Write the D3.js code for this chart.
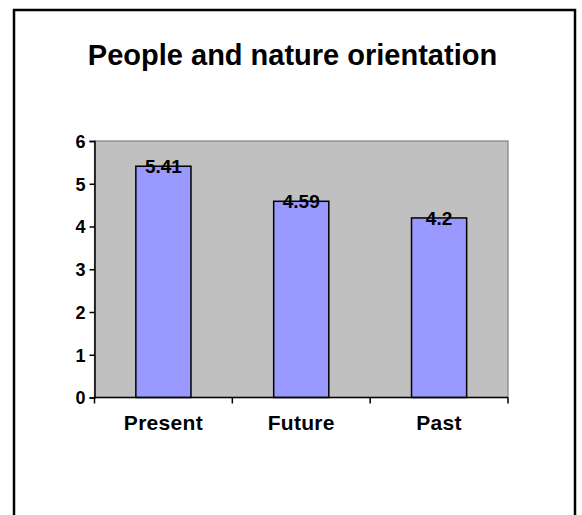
<!DOCTYPE html>
<html>
<head>
<meta charset="utf-8">
<script src="https://cdn.jsdelivr.net/npm/d3@7"></script>
<style>
html,body{margin:0;padding:0;background:#fff;}
svg{display:block;font-family:Arial,"Liberation Sans",Helvetica,sans-serif;}
</style>
</head>
<body>
<svg id="chart" width="582" height="515"></svg>
<script>
const categories = ["Present", "Future", "Past"];
const values = [5.41, 4.59, 4.2];
const valueLabels = ["5.41", "4.59", "4.2"];
const yTicks = [0, 1, 2, 3, 4, 5, 6];
const title = "People and nature orientation";

const svg = d3.select("#chart");

// outer frame
svg.append("rect").attr("x", 14).attr("y", 10).attr("width", 561).attr("height", 520)
  .attr("fill", "#fff").attr("stroke", "#000").attr("stroke-width", 2.5);

svg.append("text").attr("x", 292.5).attr("y", 64.5).attr("text-anchor", "middle")
  .attr("font-size", 29).attr("font-weight", "bold").attr("fill", "#000").text(title);

const plot = {left: 94.5, right: 508, top: 141, bottom: 397.5};

const x = d3.scaleBand().domain(categories).range([plot.left, plot.right]).paddingInner(0.6).paddingOuter(0.3);
const xOuter = d3.scaleBand().domain(categories).range([plot.left, plot.right]);
const y = d3.scaleLinear().domain([0, 6]).range([plot.bottom, plot.top]);

// plot area
svg.append("rect").attr("x", plot.left).attr("y", plot.top)
  .attr("width", plot.right - plot.left).attr("height", plot.bottom - plot.top)
  .attr("fill", "#c0c0c0").attr("stroke", "#808080").attr("stroke-width", 1.2);

// bars
svg.selectAll(".bar").data(values).enter().append("rect")
  .attr("x", (d, i) => x(categories[i]))
  .attr("y", d => y(d))
  .attr("width", x.bandwidth())
  .attr("height", d => y(0) - y(d))
  .attr("fill", "#9999ff").attr("stroke", "#000").attr("stroke-width", 1.5);

// value labels
svg.selectAll(".vl").data(values).enter().append("text")
  .attr("x", (d, i) => x(categories[i]) + x.bandwidth() / 2)
  .attr("y", d => y(d) + 7)
  .attr("text-anchor", "middle").attr("font-size", 19).attr("font-weight", "bold")
  .attr("fill", "#000")
  .text((d, i) => valueLabels[i]);

// y axis
const yAxis = d3.axisLeft(y).tickValues(yTicks).tickSize(5).tickPadding(4).tickFormat(d3.format("d"));
const gy = svg.append("g").attr("transform", `translate(${plot.left},0)`).call(yAxis);
gy.attr("font-size", null).attr("font-family", null);
gy.select(".domain").attr("stroke", "#000").attr("stroke-width", 1.5);
gy.selectAll(".tick line").attr("stroke", "#000").attr("stroke-width", 1.5);
gy.selectAll(".tick text").attr("font-size", 18).attr("font-weight", "bold")
  .attr("fill", "#000").attr("dy", "0.36em");

// x axis
const gx = svg.append("g").attr("transform", `translate(0,${plot.bottom})`);
gx.append("line").attr("x1", plot.left).attr("x2", plot.right).attr("y1", 0).attr("y2", 0)
  .attr("stroke", "#000").attr("stroke-width", 1.5);
const tickPos = categories.map(c => xOuter(c)).concat([plot.right]);
gx.selectAll(".xt").data(tickPos).enter().append("line")
  .attr("x1", d => d).attr("x2", d => d).attr("y1", 0).attr("y2", 6)
  .attr("stroke", "#000").attr("stroke-width", 1.5);
gx.selectAll(".xl").data(categories).enter().append("text")
  .attr("x", d => xOuter(d) + xOuter.bandwidth() / 2)
  .attr("y", 32.5)
  .attr("text-anchor", "middle").attr("font-size", 21).attr("font-weight", "bold")
  .attr("letter-spacing", 0.3)
  .attr("fill", "#000").text(d => d);
</script>
</body>
</html>
